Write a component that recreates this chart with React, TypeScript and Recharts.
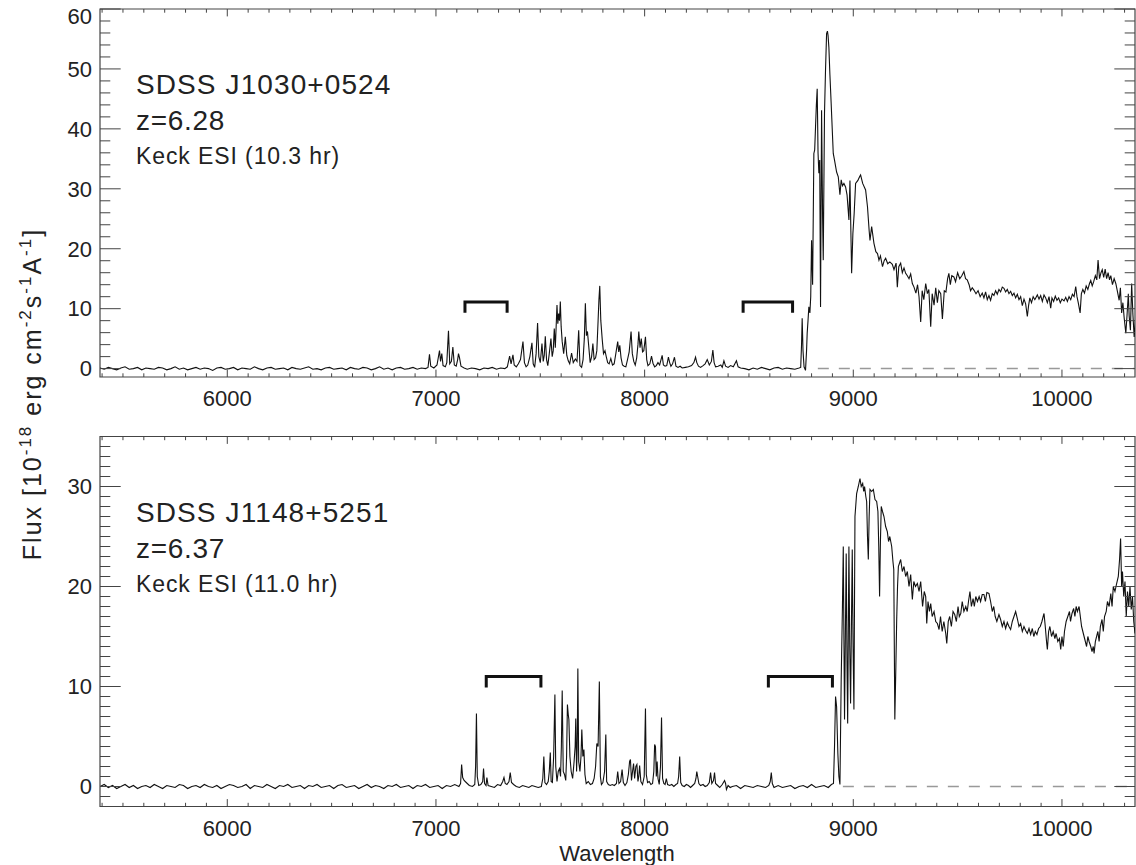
import { ComposedChart, Line, XAxis, YAxis, ReferenceArea } from "recharts";

// wavelength (A), flux (1e-18 erg/cm2/s/A)
const j1030Blue = [
  [5390, 0.1], [5410, -0.1], [5430, 0.2], [5450, 0.0], [5470, -0.2], [5490, 0.1], [5510, 0.3], [5530, -0.1], [5550, 0.0], [5570, 0.2],
  [5590, -0.2], [5610, 0.1], [5630, 0.0], [5650, -0.1], [5670, 0.2], [5690, 0.1], [5710, -0.2], [5730, 0.0], [5750, 0.3], [5770, -0.1],
  [5790, 0.1], [5810, -0.2], [5830, 0.0], [5850, 0.2], [5870, -0.1], [5890, 0.1], [5910, 0.0], [5930, -0.3], [5950, 0.1], [5970, 0.2],
  [5990, -0.1], [6010, 0.0], [6030, 0.2], [6050, -0.2], [6070, 0.1], [6090, 0.0], [6110, -0.1], [6130, 0.3], [6150, 0.0], [6170, -0.2],
  [6190, 0.1], [6210, 0.2], [6230, -0.1], [6250, 0.0], [6270, 0.1], [6290, -0.2], [6310, 0.2], [6330, 0.0], [6350, -0.1], [6370, 0.1],
  [6390, 0.3], [6410, -0.1], [6430, 0.0], [6450, -0.2], [6470, 0.1], [6490, 0.2], [6510, -0.1], [6530, 0.0], [6550, 0.1], [6570, -0.2],
  [6590, 0.2], [6610, 0.0], [6630, -0.1], [6650, 0.2], [6670, 0.1], [6690, -0.2], [6710, 0.0], [6730, 0.3], [6750, -0.1], [6770, 0.1],
  [6790, -0.2], [6810, 0.1], [6830, 0.2], [6850, -0.1], [6870, 0.0], [6890, 0.2], [6910, -0.1], [6930, 0.1], [6950, 0.0],
];

const j1030Forest = [
  [6962, 0.2], [6969, 2.4], [6975, 0.4], [6990, 0.1], [7005, 0.6], [7012, 2.0], [7017, 3.0], [7022, 1.2], [7028, 2.5], [7034, 0.5],
  [7045, 0.3], [7052, 1.0], [7060, 6.3], [7066, 0.8], [7074, 1.2], [7081, 3.6], [7088, 0.6], [7097, 0.4], [7104, 1.5], [7108, 2.5],
  [7113, 1.8], [7120, 0.4], [7135, 0.1], [7150, -0.1], [7170, 0.1], [7190, 0.0], [7210, -0.2], [7230, 0.1], [7250, 0.0], [7270, 0.2],
  [7290, -0.1], [7310, 0.1], [7330, 0.0], [7342, 0.3], [7353, 2.1], [7360, 0.8], [7369, 2.3], [7375, 0.6], [7385, 0.3], [7395, 0.8],
  [7405, 1.5], [7417, 4.5], [7424, 1.0], [7432, 0.3], [7440, 0.6], [7450, 2.0], [7460, 4.3], [7466, 0.8], [7473, 0.2], [7480, 2.5],
  [7487, 7.6], [7493, 2.0], [7500, 1.0], [7508, 4.2], [7514, 1.2], [7519, 2.2], [7524, 5.4], [7530, 1.5], [7536, 0.5], [7543, 2.5],
  [7551, 5.0], [7557, 2.0], [7562, 3.0], [7567, 6.7], [7572, 3.5], [7576, 7.0], [7580, 10.6], [7584, 7.5], [7588, 9.2], [7592, 8.0],
  [7596, 11.2], [7600, 7.0], [7605, 4.5], [7612, 2.5], [7620, 5.3], [7627, 2.2], [7634, 1.3], [7641, 0.8], [7650, 2.6], [7658, 1.0],
  [7668, 1.6], [7676, 1.2], [7684, 6.4], [7690, 0.5], [7698, 0.2], [7705, 1.5], [7711, 5.0], [7716, 10.9], [7721, 5.5], [7726, 6.2],
  [7732, 3.8], [7739, 1.0], [7746, 2.0], [7752, 4.2], [7758, 1.5], [7765, 1.8], [7771, 3.0], [7777, 8.0], [7781, 11.5], [7785, 13.8],
  [7790, 8.0], [7797, 4.8], [7803, 2.5], [7810, 3.0], [7816, 2.0], [7823, 1.0], [7830, 0.8], [7838, 1.7], [7846, 0.6], [7854, 0.8],
  [7862, 2.5], [7871, 4.5], [7876, 2.8], [7881, 3.9], [7887, 1.8], [7894, 0.6], [7902, 0.4], [7910, 0.3], [7918, 1.5], [7926, 2.8],
  [7935, 6.2], [7941, 2.5], [7948, 1.2], [7955, 0.6], [7962, 1.8], [7968, 4.0], [7972, 6.2], [7978, 3.5], [7984, 5.0], [7990, 2.8],
  [7996, 3.0], [8004, 5.3], [8010, 1.5], [8016, 0.5], [8025, 0.8], [8033, 2.1], [8040, 0.9], [8048, 0.3], [8056, 0.5], [8064, 1.0],
  [8072, 0.6], [8084, 2.2], [8090, 0.6], [8098, 0.4], [8106, 0.5], [8114, 1.9], [8120, 1.0], [8126, 0.4], [8134, 0.8], [8143, 1.9],
  [8150, 0.4], [8160, 0.2], [8170, 0.4], [8180, 0.1], [8195, 0.2], [8210, 0.3], [8225, 0.5], [8236, 1.0], [8244, 1.9], [8250, 1.0],
  [8258, 0.4], [8268, 0.2], [8280, 0.5], [8290, 0.8], [8300, 1.5], [8310, 0.6], [8320, 1.2], [8327, 3.1], [8333, 1.0], [8340, 0.3],
  [8352, 0.4], [8365, 0.6], [8372, 0.2], [8380, 1.3], [8388, 0.4], [8400, 0.2], [8412, 0.5], [8425, 0.3], [8440, 1.3], [8448, 0.3],
  [8460, 0.1], [8480, 0.0], [8500, -0.2], [8520, 0.1], [8540, -0.1], [8560, 0.2], [8580, 0.0], [8600, -0.2], [8620, 0.1], [8640, 0.2],
  [8660, -0.1], [8680, 0.1], [8700, 0.0], [8720, -0.1], [8740, 0.1],
];

const j1030Red = [
  [8748, 0.2], [8752, 4.0], [8755, 8.4], [8759, 3.0], [8764, 0.3], [8771, -0.3], [8776, 3.0], [8779, 5.9], [8783, 8.0], [8787, 10.3],
  [8792, 9.3], [8796, 12.0], [8800, 21.4], [8805, 14.0], [8811, 35.9], [8815, 36.5], [8819, 40.3], [8823, 44.0], [8827, 46.7], [8831, 36.0],
  [8835, 32.6], [8839, 34.8], [8843, 10.3], [8848, 43.1], [8853, 25.0], [8856, 18.1], [8862, 42.6], [8867, 50.0], [8872, 55.9], [8876, 56.3],
  [8879, 55.6], [8883, 53.6], [8888, 49.0], [8894, 44.2], [8904, 35.9], [8910, 34.8], [8920, 32.8], [8928, 32.0], [8936, 29.0], [8942, 31.5],
  [8948, 30.5], [8955, 30.9], [8963, 30.3], [8970, 29.0], [8979, 24.8], [8984, 31.4], [8992, 15.9], [8998, 22.5], [9004, 25.8], [9011, 30.9],
  [9022, 31.4], [9030, 32.0], [9035, 32.3], [9045, 30.9], [9059, 29.8], [9068, 27.0], [9076, 23.0], [9080, 21.4], [9088, 23.7], [9099, 20.9],
  [9108, 19.5], [9116, 19.2], [9123, 18.1], [9130, 18.8], [9140, 17.0], [9148, 18.0], [9155, 18.4], [9165, 17.5], [9175, 17.8], [9187, 17.4],
  [9195, 16.5], [9205, 17.6], [9211, 13.6], [9218, 17.0], [9227, 17.6], [9235, 16.0], [9243, 16.8], [9251, 15.9], [9259, 15.5], [9267, 15.0],
  [9275, 15.8], [9283, 14.2], [9291, 13.6], [9300, 12.6], [9308, 14.0], [9315, 12.0], [9323, 7.8], [9330, 13.0], [9338, 11.5], [9347, 14.2],
  [9355, 12.5], [9362, 13.2], [9371, 7.0], [9378, 12.5], [9387, 10.6], [9395, 13.5], [9403, 11.0], [9410, 13.0], [9419, 12.5], [9427, 8.3],
  [9436, 13.0], [9444, 12.8], [9452, 15.0], [9458, 15.9], [9465, 14.0], [9472, 15.5], [9482, 15.3], [9490, 14.5], [9500, 16.0], [9510, 15.0],
  [9520, 15.5], [9530, 16.2], [9538, 15.0], [9546, 14.8], [9555, 14.0], [9562, 13.0], [9570, 13.5], [9578, 13.1], [9588, 12.5], [9598, 13.0],
  [9608, 12.0], [9618, 12.6], [9626, 11.8], [9634, 12.8], [9642, 11.5], [9650, 12.2], [9658, 11.4], [9666, 12.5], [9674, 12.2], [9682, 13.0],
  [9690, 12.4], [9698, 13.2], [9706, 12.8], [9714, 13.6], [9722, 13.4], [9730, 12.8], [9738, 13.2], [9746, 12.5], [9754, 12.9], [9762, 12.2],
  [9770, 12.6], [9778, 11.8], [9786, 12.4], [9794, 11.5], [9802, 12.0], [9810, 10.5], [9818, 11.6], [9826, 10.8], [9834, 8.7], [9840, 10.5],
  [9846, 11.8], [9854, 11.0], [9862, 12.0], [9870, 11.5], [9882, 12.3], [9890, 11.6], [9898, 12.2], [9906, 11.2], [9914, 12.3], [9922, 11.8],
  [9930, 11.0], [9938, 12.0], [9946, 10.1], [9952, 11.8], [9960, 11.2], [9968, 12.1], [9976, 11.4], [9984, 11.8], [9992, 11.0], [10000, 11.6],
  [10010, 11.3], [10018, 11.9], [10026, 11.2], [10034, 12.0], [10042, 11.5], [10050, 12.4], [10058, 12.0], [10066, 13.7], [10072, 12.0], [10078, 11.0],
  [10087, 9.3], [10093, 12.5], [10100, 13.2], [10108, 12.6], [10116, 13.8], [10124, 13.2], [10132, 14.2], [10138, 14.7], [10145, 13.8], [10152, 14.5],
  [10160, 15.5], [10167, 14.8], [10173, 18.1], [10180, 15.0], [10187, 16.0], [10193, 16.5], [10200, 15.2], [10207, 16.6], [10214, 15.0], [10221, 16.0],
  [10228, 14.8], [10234, 15.5], [10242, 14.0], [10250, 15.0], [10258, 14.2], [10265, 13.0], [10274, 11.4], [10280, 13.5], [10286, 9.3], [10292, 11.0],
  [10298, 8.5], [10306, 5.9], [10312, 9.0], [10318, 12.5], [10322, 8.8], [10328, 6.4], [10334, 14.2], [10340, 9.0], [10346, 5.3], [10352, 8.0],
];

const j1148Blue = [
  [5390, 0.0], [5410, 0.2], [5430, -0.1], [5450, 0.1], [5470, -0.2], [5490, 0.0], [5510, 0.2], [5530, -0.1], [5550, 0.1], [5570, -0.2],
  [5590, 0.0], [5610, 0.1], [5630, -0.1], [5650, 0.2], [5670, 0.0], [5690, -0.2], [5710, 0.1], [5730, 0.0], [5750, -0.1], [5770, 0.2],
  [5790, 0.1], [5810, -0.2], [5830, 0.0], [5850, 0.1], [5870, -0.1], [5890, 0.2], [5910, 0.0], [5930, -0.1], [5950, 0.1], [5970, -0.2],
  [5990, 0.0], [6010, 0.2], [6030, 0.1], [6050, -0.1], [6070, 0.0], [6090, 0.2], [6110, -0.2], [6130, 0.1], [6150, 0.0], [6170, -0.1],
  [6190, 0.2], [6210, 0.0], [6230, -0.2], [6250, 0.1], [6270, 0.0], [6290, 0.2], [6310, -0.1], [6330, 0.0], [6350, 0.1], [6370, -0.2],
  [6390, 0.1], [6410, 0.0], [6430, 0.2], [6450, -0.1], [6470, 0.0], [6490, 0.1], [6510, -0.2], [6530, 0.1], [6550, 0.2], [6570, -0.1],
  [6590, 0.0], [6610, 0.1], [6630, -0.2], [6650, 0.0], [6670, 0.2], [6690, -0.1], [6710, 0.1], [6730, 0.0], [6750, -0.2], [6770, 0.1],
  [6790, 0.0], [6810, 0.2], [6830, -0.1], [6850, 0.0], [6870, 0.1], [6890, -0.2], [6910, 0.1], [6930, 0.0], [6950, 0.2], [6970, -0.1],
  [6990, 0.0], [7010, 0.1], [7030, -0.2], [7050, 0.1], [7070, 0.0], [7090, 0.2],
];

const j1148Forest = [
  [7110, 0.0], [7118, 0.3], [7123, 2.2], [7128, 0.9], [7135, 0.6], [7145, 0.4], [7160, 0.1], [7175, 0.0], [7186, 0.2], [7190, 2.0],
  [7194, 7.3], [7198, 1.0], [7205, 0.1], [7215, 0.2], [7224, 0.5], [7228, 1.8], [7233, 0.3], [7240, 0.1], [7244, 0.9], [7250, 0.1],
  [7265, 0.0], [7280, -0.1], [7295, 0.2], [7310, 0.1], [7320, 0.5], [7326, 0.9], [7332, 0.3], [7340, 0.2], [7350, 0.5], [7356, 1.4],
  [7362, 0.4], [7372, 0.2], [7385, 0.0], [7400, -0.1], [7415, 0.1], [7430, 0.0], [7445, -0.1], [7460, 0.1], [7475, 0.0], [7490, -0.1],
  [7505, 0.0], [7512, 0.8], [7517, 3.0], [7522, 0.4], [7530, 0.2], [7538, 0.5], [7543, 1.5], [7548, 3.4], [7552, 0.5], [7558, 0.4],
  [7564, 3.0], [7570, 9.2], [7574, 2.0], [7580, 0.5], [7586, 1.5], [7592, 1.8], [7597, 1.0], [7601, 4.0], [7605, 9.6], [7610, 1.5],
  [7616, 1.2], [7622, 0.6], [7626, 3.0], [7630, 8.2], [7634, 7.2], [7637, 6.7], [7642, 3.0], [7648, 1.5], [7655, 0.8], [7662, 2.5],
  [7667, 4.0], [7670, 6.8], [7674, 1.5], [7677, 4.0], [7680, 11.8], [7684, 2.5], [7690, 1.5], [7695, 3.0], [7699, 5.7], [7704, 3.0],
  [7709, 3.7], [7714, 1.2], [7720, 0.3], [7730, 0.5], [7740, 0.2], [7750, 0.3], [7758, 0.8], [7765, 2.0], [7771, 4.3], [7777, 4.0],
  [7783, 10.5], [7788, 1.0], [7793, 0.2], [7800, 0.4], [7808, 1.5], [7814, 5.2], [7818, 0.5], [7826, 0.2], [7835, 0.1], [7845, 0.2],
  [7855, 0.1], [7865, 0.3], [7871, 1.5], [7877, 0.3], [7885, 0.5], [7892, 1.7], [7898, 0.4], [7906, 0.1], [7915, 0.4], [7922, 1.2],
  [7928, 2.5], [7932, 2.7], [7937, 0.6], [7942, 1.5], [7947, 2.3], [7952, 0.8], [7958, 2.0], [7963, 2.2], [7968, 0.5], [7972, 1.0],
  [7976, 2.1], [7982, 0.5], [7990, 0.2], [7998, 1.0], [8004, 7.8], [8008, 1.2], [8014, 0.4], [8022, 0.5], [8030, 0.2], [8038, 0.3],
  [8044, 1.5], [8048, 4.2], [8052, 4.0], [8056, 1.0], [8060, 2.5], [8064, 0.8], [8070, 0.2], [8076, 2.0], [8081, 6.9], [8086, 0.8],
  [8092, 0.3], [8098, 0.2], [8104, 0.8], [8110, 0.2], [8120, 0.1], [8130, 0.2], [8140, 0.0], [8150, 0.2], [8158, 0.3], [8163, 1.0],
  [8168, 3.0], [8173, 0.4], [8180, 0.1], [8190, 0.0], [8200, 0.2], [8210, 0.1], [8220, -0.1], [8230, 0.1], [8240, 0.3], [8246, 0.8],
  [8250, 1.5], [8255, 0.9], [8260, 0.3], [8268, 0.1], [8280, 0.2], [8290, 0.0], [8300, 0.1], [8310, 0.4], [8316, 1.4], [8322, 0.3],
  [8330, 0.6], [8335, 1.4], [8340, 0.3], [8350, 0.1], [8360, -0.1], [8372, 0.2], [8383, 0.6], [8388, 0.3], [8392, -0.3], [8400, 0.1],
  [8410, -0.1], [8420, 0.0], [8440, 0.1], [8460, -0.2], [8480, 0.1], [8500, 0.0], [8520, -0.1], [8540, 0.1], [8560, 0.0], [8580, -0.1],
  [8595, 0.1], [8602, 0.5], [8607, 1.4], [8612, 0.3], [8620, -0.1], [8640, 0.1], [8660, -0.1], [8680, 0.0], [8700, 0.1], [8720, -0.2],
  [8740, 0.0], [8760, 0.1], [8780, -0.1], [8800, 0.2], [8820, -0.1], [8840, 0.0], [8860, 0.1], [8880, -0.1], [8895, 0.2],
];

const j1148Red = [
  [8905, 0.3], [8910, 4.0], [8915, 9.0], [8920, 8.0], [8926, 3.3], [8931, 1.0], [8936, 0.2], [8942, 10.7], [8948, 18.0], [8952, 24.0],
  [8955, 15.0], [8958, 6.7], [8962, 15.0], [8966, 23.3], [8970, 12.0], [8973, 6.3], [8976, 15.0], [8979, 24.0], [8983, 14.0], [8987, 8.3],
  [8991, 16.0], [8995, 23.7], [8999, 14.0], [9003, 7.7], [9008, 27.0], [9016, 29.3], [9024, 30.0], [9032, 30.8], [9038, 30.0], [9045, 30.3],
  [9050, 29.5], [9054, 30.0], [9060, 29.0], [9064, 28.5], [9068, 25.0], [9072, 22.7], [9076, 27.0], [9080, 29.7], [9088, 29.5], [9096, 29.7],
  [9104, 28.7], [9112, 28.5], [9118, 27.5], [9122, 24.0], [9126, 19.0], [9130, 24.5], [9134, 28.0], [9140, 27.5], [9147, 27.0], [9155, 26.0],
  [9163, 25.5], [9169, 24.5], [9175, 25.0], [9184, 24.0], [9190, 22.5], [9194, 21.7], [9199, 6.7], [9204, 12.0], [9208, 16.7], [9212, 20.0],
  [9216, 22.0], [9227, 22.7], [9235, 21.5], [9243, 22.0], [9251, 21.0], [9259, 21.5], [9267, 20.0], [9275, 21.2], [9283, 18.7], [9290, 20.5],
  [9298, 20.0], [9307, 20.3], [9315, 19.5], [9323, 20.5], [9332, 18.0], [9340, 19.5], [9347, 19.0], [9352, 16.3], [9358, 18.5], [9365, 17.5],
  [9371, 18.3], [9378, 17.0], [9387, 17.5], [9395, 16.5], [9403, 16.3], [9411, 15.7], [9418, 17.0], [9426, 15.5], [9434, 16.5], [9443, 15.3],
  [9448, 14.3], [9455, 16.5], [9462, 17.0], [9470, 16.0], [9478, 17.5], [9486, 17.2], [9494, 16.5], [9502, 18.0], [9508, 17.0], [9515, 17.3],
  [9522, 18.5], [9530, 17.5], [9539, 18.0], [9546, 17.5], [9552, 18.5], [9559, 19.5], [9566, 18.0], [9574, 18.8], [9580, 18.0], [9587, 19.0],
  [9595, 18.5], [9603, 19.0], [9610, 18.5], [9618, 19.2], [9626, 19.2], [9633, 18.5], [9640, 19.4], [9650, 19.3], [9658, 18.5], [9666, 17.5],
  [9673, 18.0], [9680, 17.0], [9688, 16.5], [9698, 17.2], [9706, 16.7], [9714, 16.0], [9722, 16.5], [9730, 15.8], [9738, 16.4], [9746, 16.0],
  [9754, 15.7], [9762, 16.5], [9770, 17.0], [9778, 17.5], [9786, 16.8], [9794, 16.0], [9802, 16.3], [9810, 15.5], [9818, 16.0], [9826, 15.6],
  [9834, 15.3], [9842, 15.8], [9850, 15.2], [9858, 15.8], [9865, 15.0], [9872, 15.5], [9880, 15.2], [9888, 15.8], [9896, 16.0], [9904, 16.5],
  [9910, 17.0], [9914, 17.3], [9920, 16.0], [9926, 14.5], [9930, 13.7], [9936, 15.5], [9942, 16.0], [9950, 15.0], [9958, 15.5], [9966, 14.8],
  [9972, 15.3], [9980, 14.5], [9988, 14.8], [9994, 13.7], [10000, 15.0], [10006, 14.0], [10012, 15.5], [10020, 16.5], [10028, 17.0], [10036, 17.5],
  [10041, 16.5], [10048, 17.3], [10056, 17.8], [10062, 17.0], [10068, 18.0], [10074, 17.5], [10082, 18.0], [10088, 17.0], [10094, 16.0], [10100, 15.5],
  [10106, 15.0], [10112, 14.5], [10118, 14.0], [10124, 15.0], [10130, 14.5], [10138, 14.0], [10144, 13.5], [10150, 14.0], [10154, 13.3], [10160, 14.5],
  [10166, 15.0], [10172, 15.5], [10178, 14.5], [10184, 16.0], [10192, 16.7], [10198, 15.5], [10204, 17.0], [10212, 17.5], [10218, 18.5], [10226, 18.0],
  [10234, 19.3], [10240, 18.0], [10246, 20.0], [10254, 19.5], [10262, 20.3], [10270, 21.0], [10276, 22.7], [10281, 24.8], [10286, 20.0], [10290, 21.5],
  [10296, 19.0], [10302, 20.5], [10308, 17.0], [10314, 19.5], [10320, 18.0], [10326, 20.0], [10332, 17.7], [10338, 19.0], [10344, 16.5], [10350, 15.3],
];

// [start, end, top, foot] of the bracket marks
const j1030Brackets = [[7139, 7341, 11.1, 9.3], [8472, 8709, 11.1, 9.3]];
const j1148Brackets = [[7241, 7503, 11.0, 9.9], [8593, 8900, 11.0, 9.9]];

const xMajor = [6000, 7000, 8000, 9000, 10000];
const topYMajor = [0, 10, 20, 30, 40, 50, 60];
const bottomYMajor = [0, 10, 20, 30];

const X_DOMAIN = [5390, 10350];
const AXIS = "#444";
const INK = "#222";
const FONT = '"Liberation Sans", Arial, Helvetica, sans-serif';
const PLOT_W = 1035;

const toPts = (rows: number[][]) => rows.map(([w, f]) => ({ w, f }));
const bracketPts = ([a, b, top, foot]: number[]) => [
  { w: a, f: foot },
  { w: a, f: top },
  { w: b, f: top },
  { w: b, f: foot },
];

const xTicks: number[] = [];
for (let w = 5400; w <= 10300; w += 100) xTicks.push(w);

function makeXTick(plotH: number) {
  return (props: any) => {
    const { x, y, payload } = props;
    const v = payload.value;
    const major = xMajor.includes(v);
    const len = major ? 7.4 : 3.7;
    return (
      <g>
        <line x1={x} x2={x} y1={y} y2={y - len} stroke={AXIS} />
        <line x1={x} x2={x} y1={y - plotH} y2={y - plotH + len} stroke={AXIS} />
        {major && (
          <text x={x} y={y + 29} textAnchor="middle" fontSize={22} fill={INK} fontFamily={FONT}>
            {v}
          </text>
        )}
      </g>
    );
  };
}

function makeYTick(majors: number[]) {
  return (props: any) => {
    const { x, y, payload } = props;
    const v = payload.value;
    const major = majors.includes(v);
    const len = major ? 20.7 : 10.3;
    // keep the top label inside the page
    const ly = Math.max(y + 7.8, 24);
    return (
      <g>
        <line x1={x} x2={x + len} y1={y} y2={y} stroke={AXIS} />
        <line x1={x + PLOT_W} x2={x + PLOT_W - len} y1={y} y2={y} stroke={AXIS} />
        {major && (
          <text x={x - 8} y={ly} textAnchor="end" fontSize={22} fill={INK} fontFamily={FONT}>
            {v}
          </text>
        )}
      </g>
    );
  };
}

type PanelProps = {
  spectrum: { w: number; f: number }[];
  brackets: number[][];
  zeroFrom: number;
  yDomain: number[];
  yTicks: number[];
  yMajor: number[];
  height: number;
  top: number;
  axisH: number;
};

function Panel({ spectrum, brackets, zeroFrom, yDomain, yTicks, yMajor, height, top, axisH }: PanelProps) {
  const plotH = height - top - axisH;
  return (
    <ComposedChart width={1136} height={height} margin={{ top, right: 1, bottom: 0, left: 0 }}>
      <XAxis
        dataKey="w"
        type="number"
        domain={X_DOMAIN}
        allowDataOverflow
        ticks={xTicks}
        interval={0}
        height={axisH}
        tickSize={0}
        tickMargin={0}
        tickLine={false}
        axisLine={false}
        tick={makeXTick(plotH)}
      />
      <YAxis
        dataKey="f"
        type="number"
        domain={yDomain}
        allowDataOverflow
        ticks={yTicks}
        interval={0}
        width={100}
        tickSize={0}
        tickMargin={0}
        tickLine={false}
        axisLine={false}
        tick={makeYTick(yMajor)}
      />
      <ReferenceArea
        x1={X_DOMAIN[0]}
        x2={X_DOMAIN[1]}
        y1={yDomain[0]}
        y2={yDomain[1]}
        fill="none"
        stroke={AXIS}
        strokeWidth={1.2}
        ifOverflow="visible"
      />
      <Line
        data={[{ w: zeroFrom, f: 0 }, { w: X_DOMAIN[1], f: 0 }]}
        dataKey="f"
        stroke="#999"
        strokeWidth={1.5}
        strokeDasharray="11 10"
        dot={false}
        activeDot={false}
        isAnimationActive={false}
      />
      <Line
        data={spectrum}
        dataKey="f"
        type="linear"
        stroke="#111"
        strokeWidth={1.1}
        dot={false}
        activeDot={false}
        isAnimationActive={false}
      />
      {brackets.map((b, i) => (
        <Line
          key={i}
          data={bracketPts(b)}
          dataKey="f"
          type="linear"
          stroke="#111"
          strokeWidth={3}
          strokeLinejoin="miter"
          dot={false}
          activeDot={false}
          isAnimationActive={false}
        />
      ))}
    </ComposedChart>
  );
}

const topYTicks: number[] = [];
for (let v = 0; v <= 60; v += 2) topYTicks.push(v);
const bottomYTicks: number[] = [];
for (let v = -1; v <= 34; v += 1) bottomYTicks.push(v);

const supSize = 17;

export default function App() {
  const j1030 = toPts([...j1030Blue, ...j1030Forest, ...j1030Red]);
  const j1148 = toPts([...j1148Blue, ...j1148Forest, ...j1148Red]);
  return (
    <div style={{ position: "absolute", left: 0, top: 0, width: 1136, height: 865, background: "#fff", fontFamily: FONT }}>
      <div style={{ position: "absolute", left: 0, top: 0 }}>
        <Panel
          spectrum={j1030}
          brackets={j1030Brackets}
          zeroFrom={8830}
          yDomain={[-1.4, 60]}
          yTicks={topYTicks}
          yMajor={topYMajor}
          height={420}
          top={9}
          axisH={43}
        />
      </div>
      <div style={{ position: "absolute", left: 0, top: 420 }}>
        <Panel
          spectrum={j1148}
          brackets={j1148Brackets}
          zeroFrom={8950}
          yDomain={[-2, 35]}
          yTicks={bottomYTicks}
          yMajor={bottomYMajor}
          height={445}
          top={16.5}
          axisH={58.5}
        />
      </div>
      <svg width={1136} height={865} style={{ position: "absolute", left: 0, top: 0, pointerEvents: "none" }}>
        <g fontFamily={FONT} fill={INK}>
          <text x={136} y={94} fontSize={28} letterSpacing={1.1}>SDSS J1030+0524</text>
          <text x={136} y={130} fontSize={28} letterSpacing={0.7}>z=6.28</text>
          <text x={136} y={164} fontSize={23} letterSpacing={0.9}>Keck ESI (10.3 hr)</text>
          <text x={136} y={522} fontSize={28} letterSpacing={1.1}>SDSS J1148+5251</text>
          <text x={136} y={558} fontSize={28} letterSpacing={0.7}>z=6.37</text>
          <text x={136} y={592} fontSize={23} letterSpacing={0.9}>Keck ESI (11.0 hr)</text>
          <text x={617} y={861} fontSize={22} textAnchor="middle">Wavelength</text>
          <text transform="translate(41, 394) rotate(-90)" fontSize={25} textAnchor="middle" letterSpacing={2}>
            Flux [10<tspan dy={-10} fontSize={supSize}>-18</tspan>
            <tspan dy={10}> erg cm</tspan>
            <tspan dy={-10} fontSize={supSize}>-2</tspan>
            <tspan dy={10}>s</tspan>
            <tspan dy={-10} fontSize={supSize}>-1</tspan>
            <tspan dy={10}>A</tspan>
            <tspan dy={-10} fontSize={supSize}>-1</tspan>
            <tspan dy={10}>]</tspan>
          </text>
        </g>
      </svg>
    </div>
  );
}
